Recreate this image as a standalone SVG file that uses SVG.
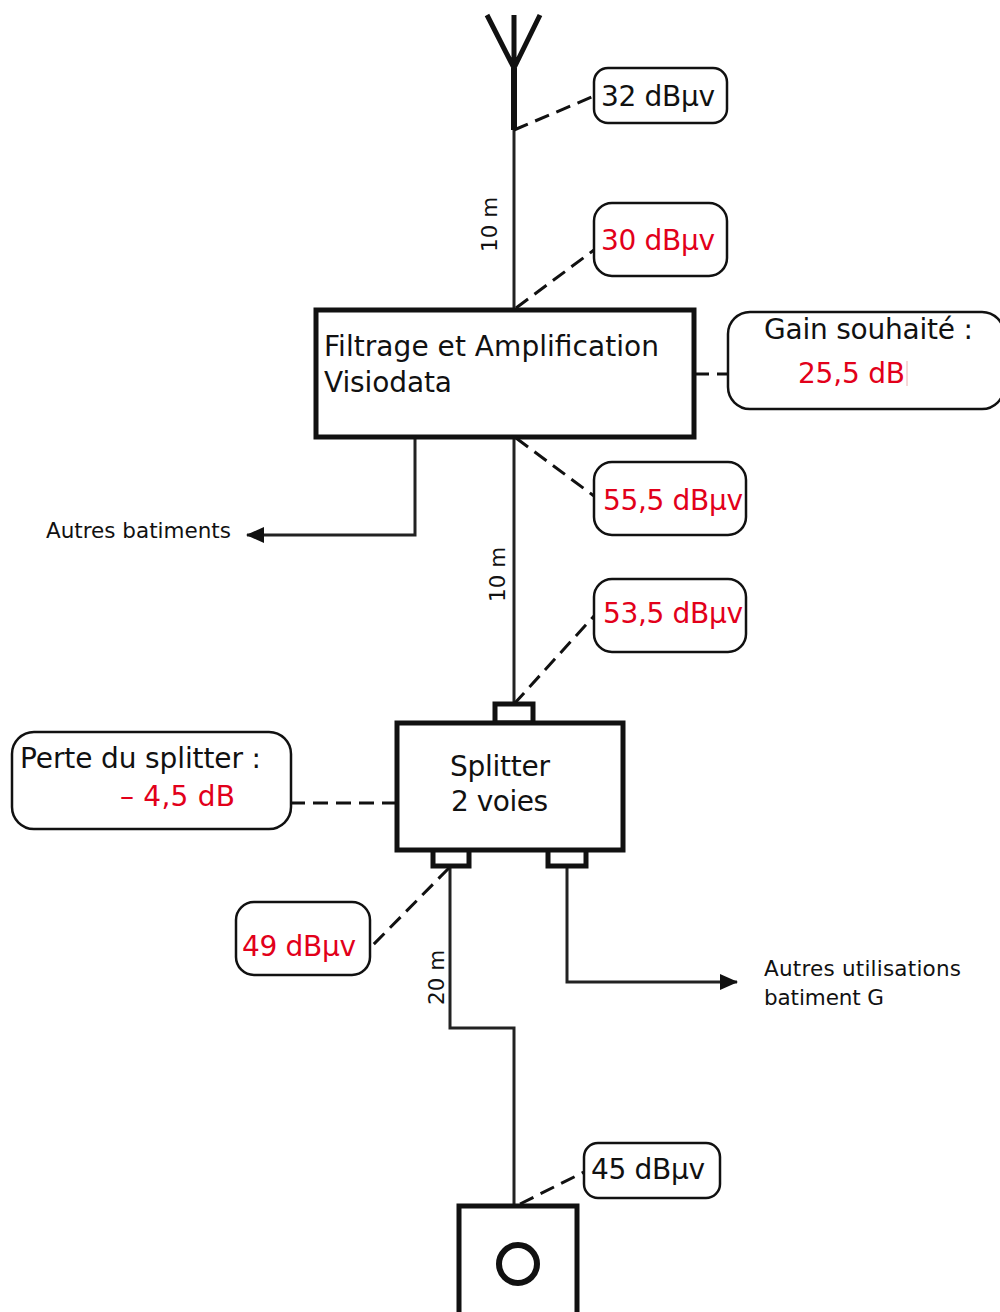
<svg xmlns="http://www.w3.org/2000/svg" width="1000" height="1312" viewBox="0 0 1000 1312">
<style>
text{font-family:"DejaVu Sans",sans-serif;fill:#111}
.l{font-size:28px}
.r{fill:#e2001a}
.s{font-size:21.5px}
.box{fill:#fff;stroke:#111;stroke-width:5}
.call{fill:#fff;stroke:#111;stroke-width:2.5}
.w{fill:none;stroke:#222;stroke-width:3}
.d{fill:none;stroke:#111;stroke-width:3;stroke-dasharray:15 8}
</style>
<defs>
<marker id="arrow" markerWidth="18" markerHeight="16" refX="17" refY="8" orient="auto" markerUnits="userSpaceOnUse"><path d="M0 0L18 8L0 16z" fill="#111"/></marker></defs>
<g id="connectors">
<path class="w" d="M514 130V310"/>
<path class="w" d="M514 438V704"/>
<path class="w" d="M415 438V535H247" marker-end="url(#arrow)"/>
<path class="w" d="M450 866V1028H514V1206"/>
<path class="w" d="M567 866V982H737" marker-end="url(#arrow)"/>
<path class="d" d="M514 130L594 96"/>
<path class="d" d="M516 308L594 250"/>
<path class="d" d="M694 374H728"/>
<path class="d" d="M516 438L594 496"/>
<path class="d" d="M514 704L594 616"/>
<path class="d" d="M290 803H396"/>
<path class="d" d="M449 868L370 948"/>
<path class="d" d="M520 1204L584 1172"/>
</g>
<g id="antenna"><path d="M514 68V130" fill="none" stroke="#111" stroke-width="6"/><path d="M487 15L514 68L540 15M514 15V70" fill="none" stroke="#111" stroke-width="5"/></g>
<g id="c32"><rect class="call" x="594" y="68" width="133" height="55" rx="14"/><text class="l" x="601" y="106" textLength="114">32 dBµv</text></g>
<g id="c30"><rect class="call" x="594" y="203" width="133" height="73" rx="18"/><text class="l r" x="601" y="250" textLength="114">30 dBµv</text></g>
<g id="filter"><rect class="box" x="316" y="310" width="378" height="127"/><text class="l" x="324" y="356" textLength="335">Filtrage et Amplification</text><text class="l" x="324" y="392" textLength="128">Visiodata</text></g>
<g id="gain"><rect class="call" x="728" y="312" width="276" height="97" rx="22"/><text class="l" x="764" y="339" textLength="209">Gain souhaité :</text><text class="l r" x="798" y="383" textLength="107">25,5 dB</text><path d="M907 361V386" stroke="#eeb0b0" stroke-width="1"/></g>
<g id="c555"><rect class="call" x="594" y="462" width="152" height="73" rx="18"/><text class="l r" x="603" y="510" textLength="140">55,5 dBµv</text></g>
<g id="c535"><rect class="call" x="594" y="579" width="152" height="73" rx="18"/><text class="l r" x="603" y="623" textLength="140">53,5 dBµv</text></g>
<g id="others"><text class="s" x="46" y="538" textLength="185">Autres batiments</text></g>
<g id="splitter"><rect class="box" x="495" y="704" width="38" height="19"/><rect class="box" x="433" y="849" width="36" height="17"/><rect class="box" x="548" y="849" width="38" height="17"/><rect class="box" x="397" y="723" width="226" height="127"/><text class="l" x="450" y="776" textLength="100">Splitter</text><text class="l" x="451" y="811" textLength="97">2 voies</text></g>
<g id="perte"><rect class="call" x="12" y="732" width="279" height="97" rx="22"/><text class="l" x="20" y="768" textLength="241">Perte du splitter :</text><text class="l r" x="120" y="806" textLength="115">– 4,5 dB</text></g>
<g id="c49"><rect class="call" x="236" y="902" width="134" height="73" rx="18"/><text class="l r" x="242" y="956" textLength="114">49 dBµv</text></g>
<g id="usage"><text class="s" x="764" y="976" textLength="197">Autres utilisations</text><text class="s" x="764" y="1005" textLength="120">batiment G</text></g>
<g id="c45"><rect class="call" x="584" y="1143" width="136" height="55" rx="14"/><text class="l" x="591" y="1179" textLength="114">45 dBµv</text></g>
<g id="outlet"><rect class="box" x="459" y="1206" width="118" height="120"/><circle cx="518" cy="1264" r="19" fill="none" stroke="#111" stroke-width="6"/></g>
<g id="lengths"><text class="s" transform="translate(497 252) rotate(-90)">10 m</text><text class="s" transform="translate(505 602) rotate(-90)">10 m</text><text class="s" transform="translate(444 1005) rotate(-90)">20 m</text></g>
</svg>
